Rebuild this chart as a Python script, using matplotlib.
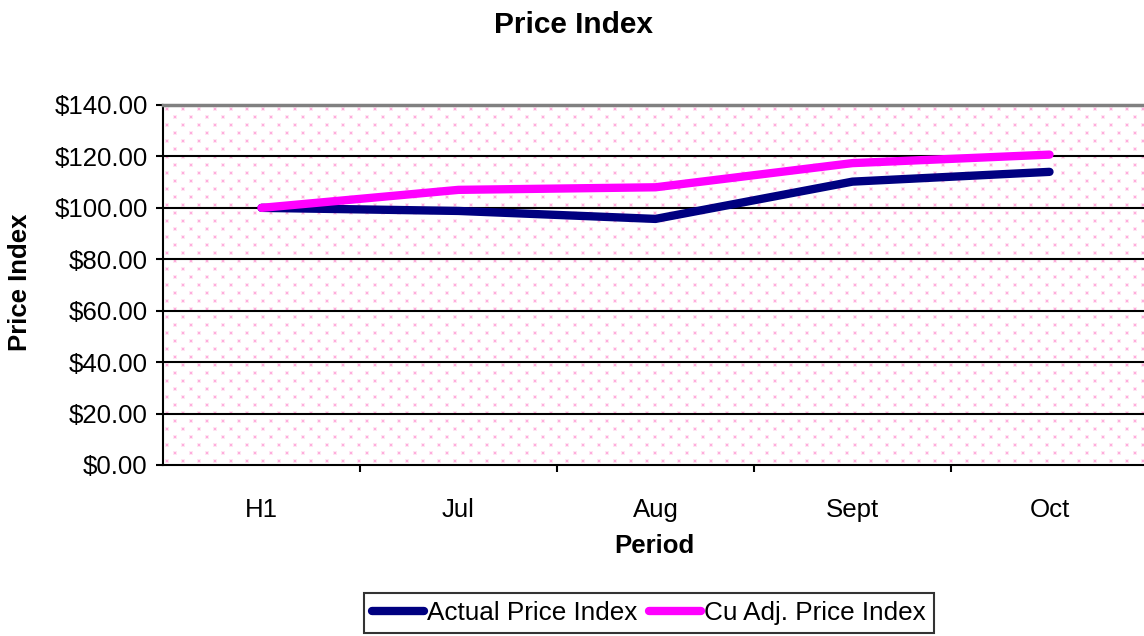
import numpy as np
import matplotlib
matplotlib.use("Agg")
import matplotlib.pyplot as plt
from matplotlib.ticker import FuncFormatter, FixedLocator

plt.rcParams['font.family'] = ['Liberation Sans', 'DejaVu Sans']

periods = ["H1", "Jul", "Aug", "Sept", "Oct"]
actual_price_index = [100.0, 98.8, 95.7, 110.2, 114.0]
cu_adj_price_index = [100.0, 107.0, 108.0, 117.4, 120.7]

W, H = 1144, 636
fig = plt.figure(figsize=(W / 100, H / 100), dpi=100)
ax_l, ax_b, ax_w, ax_h = 163, 465, 985, 360
ax = fig.add_axes([ax_l / W, 1 - ax_b / H, ax_w / W, ax_h / H])

# dotted pink background texture
tex = np.ones((ax_h, ax_w, 3))
pink = np.array([1.0, 0.68, 0.87])
halo = np.array([1.0, 0.90, 0.95])
for r in range(3, ax_h, 8):
    off = 3 if (r // 8) % 2 == 0 else 11
    for c in range(off, ax_w, 16):
        tex[r - 1:r + 3, c - 1:c + 3] = halo
        tex[r:r + 2, c:c + 2] = pink
ax.imshow(tex, extent=(0, 1, 0, 1), transform=ax.transAxes, aspect='auto',
          interpolation='nearest', zorder=0)

x = np.arange(len(periods))
ax.plot(x, actual_price_index, color='#000080', lw=6, solid_capstyle='round',
        solid_joinstyle='round', label='Actual Price Index', zorder=3)
ax.plot(x, cu_adj_price_index, color='#FF00FF', lw=6, solid_capstyle='round',
        solid_joinstyle='round', label='Cu Adj. Price Index', zorder=3)

ax.set_xlim(-0.5, len(periods) - 0.5)
ax.set_ylim(0, 140)
ax.set_yticks(np.arange(0, 141, 20))
ax.yaxis.set_major_formatter(FuncFormatter(lambda v, p: f"${v:,.2f}"))
for v in range(20, 140, 20):
    ax.axhline(v, color='black', lw=1.5, zorder=2)

ax.set_xticks(x)
ax.set_xticklabels(periods)
ax.xaxis.set_minor_locator(FixedLocator(np.arange(0.5, len(periods) - 0.5, 1)))
ax.tick_params(axis='x', which='major', length=0, pad=24, labelsize=18.6)
ax.tick_params(axis='x', which='minor', length=5, width=1.5, direction='out')
ax.tick_params(axis='y', length=5, width=1.5, direction='out', pad=6, labelsize=18.6)

ax.spines['right'].set_visible(False)
ax.spines['top'].set_color('#808080')
ax.spines['top'].set_linewidth(2.5)
ax.spines['left'].set_linewidth(1.5)
ax.spines['bottom'].set_linewidth(1.5)

fig.text(573 / W, 1 - 25 / H, "Price Index", ha='center', va='center',
         fontsize=21.5, fontweight='bold')
fig.text(654 / W, 1 - 546 / H, "Period", ha='center', va='center',
         fontsize=18.5, fontweight='bold')
fig.text(20 / W, 1 - 282 / H, "Price Index", ha='center', va='center',
         rotation=90, fontsize=18.5, fontweight='bold')

leg = fig.legend(loc='upper center', bbox_to_anchor=(649 / W, 1 - 593 / H),
                 ncol=2, fontsize=18.8, frameon=True, fancybox=False,
                 handlelength=2.0, handletextpad=0.1, columnspacing=0.45,
                 borderpad=0.3, borderaxespad=0)
leg.get_frame().set_edgecolor('black')
leg.get_frame().set_linewidth(1.5)

fig.savefig("out.png", dpi=100)
